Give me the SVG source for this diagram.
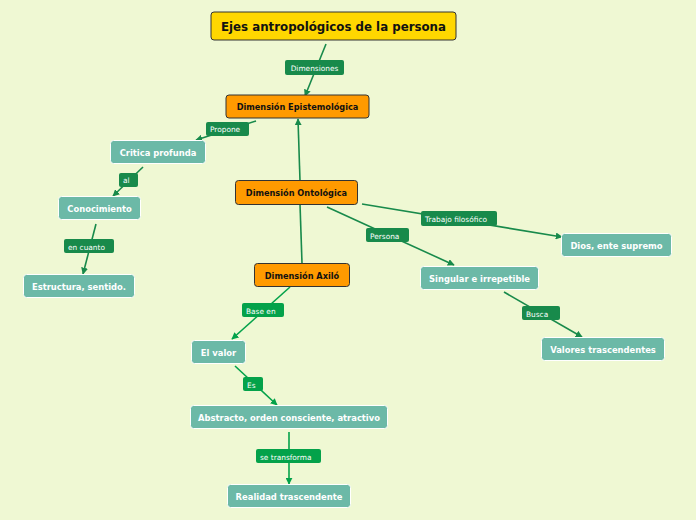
<svg xmlns="http://www.w3.org/2000/svg" width="696" height="520" viewBox="0 0 696 520">
<style>
.bg{fill:#eff8d3}
.t{font-family:"DejaVu Sans",Verdana,sans-serif;font-weight:bold;text-anchor:middle}
.title{fill:#ffd700;stroke:#333;stroke-width:1}
.org{fill:#ff9a00;stroke:#333;stroke-width:1}
.teal{fill:#6cb9a7;stroke:#ffffff;stroke-width:1}
.c1{stroke:#188a4b;stroke-width:1.6;fill:none}
.c2{stroke:#04a24a;stroke-width:1.6;fill:none}
.l1{fill:#188a4b}
.l2{fill:#04a24a}
.lt{font-family:"DejaVu Sans",Verdana,sans-serif;font-size:7.4px;fill:#ffffff}
.nt{font-size:8.4px;fill:#ffffff}
.ot{font-size:8.2px;fill:#111}
</style>
<defs>
<marker id="a1" viewBox="0 0 10 10" refX="9" refY="5" markerWidth="7" markerHeight="7" orient="auto" markerUnits="userSpaceOnUse"><path d="M0,0L10,5L0,10z" fill="#188a4b"/></marker>
<marker id="a2" viewBox="0 0 10 10" refX="9" refY="5" markerWidth="7" markerHeight="7" orient="auto" markerUnits="userSpaceOnUse"><path d="M0,0L10,5L0,10z" fill="#04a24a"/></marker>
</defs>
<rect class="bg" width="696" height="520"/>
<g id="connectors">
<line class="c1" x1="326" y1="44" x2="305" y2="96" marker-end="url(#a1)"/>
<line class="c1" x1="300" y1="181" x2="298" y2="119" marker-end="url(#a1)"/>
<line class="c1" x1="256" y1="121" x2="196" y2="140" marker-end="url(#a1)"/>
<line class="c1" x1="143" y1="167" x2="113" y2="196" marker-end="url(#a1)"/>
<line class="c1" x1="96" y1="224" x2="83" y2="274" marker-end="url(#a1)"/>
<line class="c1" x1="300" y1="204" x2="302" y2="263"/>
<line class="c1" x1="362" y1="204" x2="562" y2="237" marker-end="url(#a1)"/>
<line class="c1" x1="327" y1="207" x2="454" y2="265" marker-end="url(#a1)"/>
<line class="c1" x1="504" y1="292" x2="582" y2="337" marker-end="url(#a1)"/>
<line class="c2" x1="290" y1="287" x2="232" y2="339" marker-end="url(#a2)"/>
<line class="c2" x1="235" y1="366" x2="277" y2="405" marker-end="url(#a2)"/>
<line class="c2" x1="289" y1="432" x2="289" y2="484" marker-end="url(#a2)"/>
<rect class="l1" x="285" y="60" width="59" height="15" rx="2"/><text class="lt" x="314.5" y="70.5" text-anchor="middle">Dimensiones</text>
<rect class="l1" x="206" y="122" width="43" height="14" rx="2"/><text class="lt" x="210" y="132">Propone</text>
<rect class="l1" x="119" y="173" width="19" height="14" rx="2"/><text class="lt" x="123" y="183">al</text>
<rect class="l1" x="64" y="239" width="50" height="14" rx="2"/><text class="lt" x="68" y="249.5">en cuanto</text>
<rect class="l1" x="421" y="211" width="76" height="15" rx="2"/><text class="lt" x="425" y="221.5">Trabajo filosófico</text>
<rect class="l1" x="366" y="228" width="43" height="14" rx="2"/><text class="lt" x="370" y="238.5">Persona</text>
<rect class="l1" x="522" y="306" width="38" height="14" rx="2"/><text class="lt" x="526" y="316.5">Busca</text>
<rect class="l2" x="242" y="303" width="42" height="14" rx="2"/><text class="lt" x="246" y="313.5">Base en</text>
<rect class="l2" x="243" y="377" width="20" height="14" rx="2"/><text class="lt" x="247" y="387.5">Es</text>
<rect class="l2" x="256" y="449" width="65" height="14" rx="2"/><text class="lt" x="260" y="459.5">se transforma</text>
</g>
<g id="title"><rect class="title" x="211" y="12" width="245" height="28" rx="3"/><text class="t" x="333.5" y="30.5" font-size="11.8" fill="#111">Ejes antropológicos de la persona</text></g>
<g id="epist"><rect class="org" x="226" y="95" width="143" height="23" rx="3"/><text class="t ot" x="297.5" y="110">Dimensión Epistemológica</text></g>
<g id="onto"><rect class="org" x="235.5" y="180.5" width="122" height="24" rx="3"/><text class="t ot" x="296.5" y="196">Dimensión Ontológica</text></g>
<g id="axilo"><rect class="org" x="254.5" y="263.5" width="95" height="23" rx="3"/><text class="t ot" x="302" y="278.5">Dimensión Axiló</text></g>
<g id="critica"><rect class="teal" x="110.5" y="140.5" width="95" height="23" rx="3"/><text class="t nt" x="158" y="155.5">Critica profunda</text></g>
<g id="conoc"><rect class="teal" x="58.5" y="196.5" width="82" height="23" rx="3"/><text class="t nt" x="99.5" y="211.5">Conocimiento</text></g>
<g id="estruct"><rect class="teal" x="23.5" y="274.5" width="111" height="23" rx="3"/><text class="t nt" x="79" y="289.5">Estructura, sentido.</text></g>
<g id="dios"><rect class="teal" x="561.5" y="233.5" width="110" height="23" rx="3"/><text class="t nt" x="616.5" y="248.5">Dios, ente supremo</text></g>
<g id="singular"><rect class="teal" x="420.5" y="266.5" width="118" height="23" rx="3"/><text class="t nt" x="479.5" y="281.5">Singular e irrepetible</text></g>
<g id="valores"><rect class="teal" x="541.5" y="337.5" width="123" height="23" rx="3"/><text class="t nt" x="603" y="352.5">Valores trascendentes</text></g>
<g id="elvalor"><rect class="teal" x="191.5" y="340.5" width="54" height="23" rx="3"/><text class="t nt" x="218.5" y="355.5">El valor</text></g>
<g id="abstracto"><rect class="teal" x="190.5" y="405.5" width="197" height="23" rx="3"/><text class="t nt" x="289" y="420.5">Abstracto, orden consciente, atractivo</text></g>
<g id="realidad"><rect class="teal" x="227.5" y="484.5" width="123" height="23" rx="3"/><text class="t nt" x="289" y="499.5">Realidad trascendente</text></g>
</svg>
